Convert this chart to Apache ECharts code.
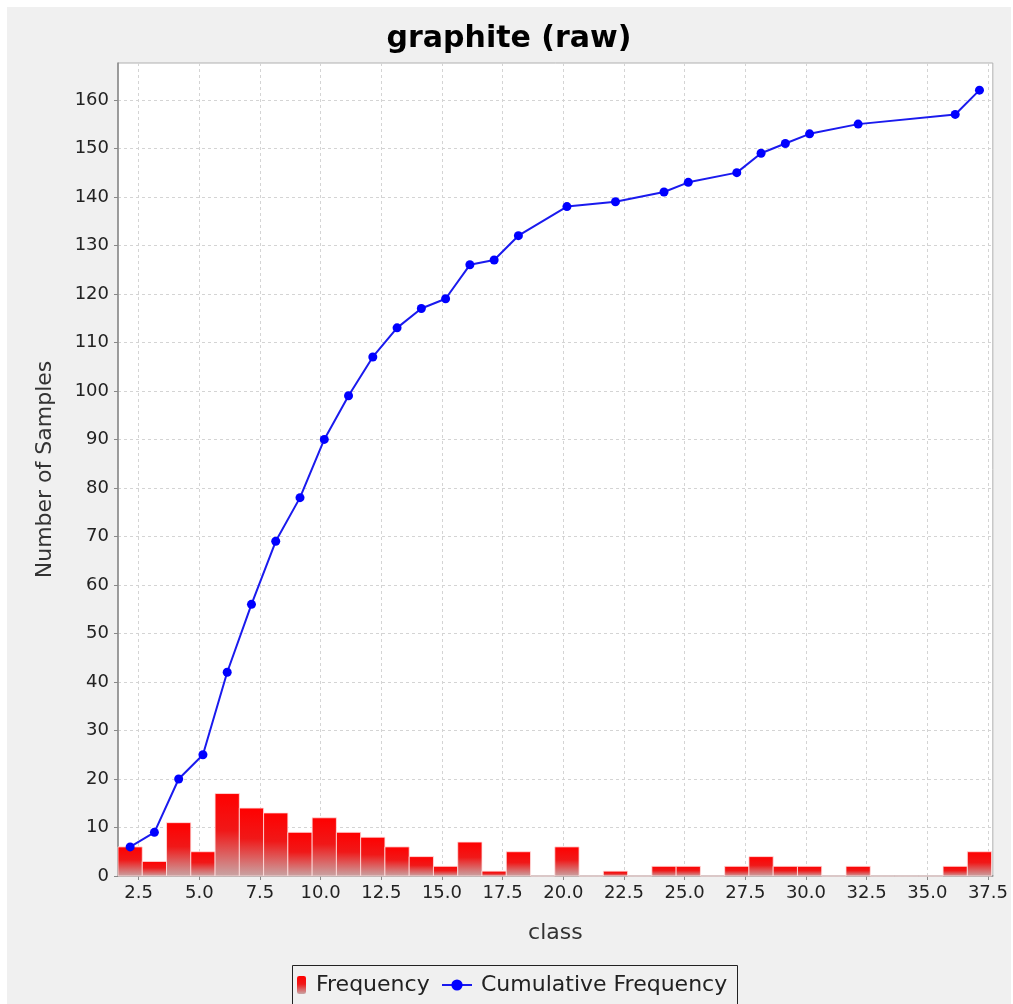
<!DOCTYPE html>
<html>
<head>
<meta charset="utf-8">
<script src="https://cdn.jsdelivr.net/npm/echarts@6/dist/echarts.min.js"></script>
<style>
  html, body { margin: 0; padding: 0; background: #fff; }
  #chart { position: absolute; left: 7px; top: 7px; width: 1004px; height: 997px; }
</style>
</head>
<body>
<div id="chart"></div>
<script>
// histogram bins (class axis)
const binStart = 1.65;
const binWidth = 1.0;
const frequency = [6, 3, 11, 5, 17, 14, 13, 9, 12, 9, 8, 6, 4, 2, 7, 1, 5, 0,
  6, 0, 1, 0, 2, 2, 0, 2, 4, 2, 2, 0, 2, 0, 0, 0, 2, 5];
// cumulative count, one value per non-empty bin
const cumulative = [6, 9, 20, 25, 42, 56, 69, 78, 90, 99, 107, 113, 117, 119,
  126, 127, 132, 138, 139, 141, 143, 145, 149, 151, 153, 155, 157, 162];
const xTicks = [2.5, 5.0, 7.5, 10.0, 12.5, 15.0, 17.5, 20.0, 22.5, 25.0, 27.5,
  30.0, 32.5, 35.0, 37.5];
const yTicks = [0, 10, 20, 30, 40, 50, 60, 70, 80, 90, 100, 110, 120, 130, 140,
  150, 160];

const FONT = 'DejaVu Sans';

// bar data: [low, high, count]
const barData = frequency.map((f, i) => [binStart + i * binWidth, binStart + (i + 1) * binWidth, f]);
const lineData = [];
let c = 0;
frequency.forEach((f, i) => {
  if (f > 0) {
    lineData.push([binStart + (i + 0.5) * binWidth, cumulative[c]]);
    c++;
  }
});

function redGradient() {
  return new echarts.graphic.LinearGradient(0, 0, 0, 1, [
    { offset: 0, color: '#ff0000' },
    { offset: 0.45, color: '#f01818' },
    { offset: 1, color: '#c8a6a6' }
  ]);
}

let myChart = echarts.init(document.getElementById('chart'));
myChart.setOption({
  backgroundColor: '#f0f0f0',
  animation: false,
  title: {
    text: 'graphite (raw)',
    left: 'center',
    top: 12,
    textStyle: { fontFamily: FONT, fontSize: 30, fontWeight: 'bold', color: '#000' }
  },
  grid: {
    left: 111, right: 15, top: 56, bottom: 128,
    show: true, backgroundColor: '#fff', borderColor: '#b0b0b0', borderWidth: 1
  },
  legend: [
    {
      data: ['Frequency'],
      left: 288, top: 964,
      itemWidth: 9, itemHeight: 18, itemGap: 0,
      padding: [3, 2, 3, 2],
      textStyle: { fontFamily: FONT, fontSize: 22, color: '#222', padding: [0, 0, 0, 5] }
    },
    {
      data: ['Cumulative Frequency'],
      left: 432, top: 964,
      itemWidth: 30, itemHeight: 14, itemGap: 0,
      padding: [3, 2, 3, 2],
      textStyle: { fontFamily: FONT, fontSize: 22, color: '#222', padding: [0, 0, 0, 4] }
    }
  ],
  graphic: [
    {
      type: 'rect', left: 283, top: 956, z: -1,
      shape: { width: 445, height: 60 },
      style: { fill: 'none', stroke: '#222', lineWidth: 1 }
    }
  ],
  xAxis: {
    type: 'value',
    min: binStart,
    max: 37.7,
    name: 'class',
    nameLocation: 'middle',
    nameGap: 46,
    nameTextStyle: { fontFamily: FONT, fontSize: 22, color: '#333' },
    axisLine: { show: true, onZero: false, lineStyle: { color: '#888', width: 1.5 } },
    axisTick: { show: true, length: 4, customValues: xTicks, lineStyle: { color: '#888' } },
    axisLabel: {
      customValues: xTicks, margin: 8, color: '#222', fontFamily: FONT, fontSize: 18,
      formatter: v => v.toFixed(1)
    },
    splitLine: { show: true, lineStyle: { color: '#d4d4d4', type: [3, 3] } }
  },
  yAxis: {
    type: 'value',
    min: 0,
    max: 167.6,
    name: 'Number of Samples',
    nameLocation: 'middle',
    nameGap: 62,
    nameTextStyle: { fontFamily: FONT, fontSize: 22, color: '#333' },
    axisLine: { show: true, lineStyle: { color: '#888', width: 1.5 } },
    axisTick: { show: true, length: 4, customValues: yTicks, lineStyle: { color: '#888' } },
    axisLabel: { customValues: yTicks, margin: 9, color: '#222', fontFamily: FONT, fontSize: 18 },
    splitLine: { show: true, lineStyle: { color: '#d4d4d4', type: [3, 3] } }
  },
  series: [
    {
      name: 'Frequency',
      type: 'custom',
      itemStyle: { color: redGradient() },
      encode: { x: [0, 1], y: 2 },
      data: barData,
      renderItem: function (params, api) {
        const p0 = api.coord([api.value(0), api.value(2)]);
        const p1 = api.coord([api.value(1), 0]);
        return {
          type: 'rect',
          shape: { x: p0[0], y: p0[1], width: p1[0] - p0[0], height: p1[1] - p0[1] },
          style: { fill: redGradient(), stroke: 'rgba(255,225,225,0.8)', lineWidth: 1 }
        };
      },
      z: 2
    },
    {
      name: 'Cumulative Frequency',
      type: 'line',
      data: lineData,
      symbol: 'circle',
      symbolSize: 9,
      itemStyle: { color: '#0000ff' },
      lineStyle: { color: '#1a1aee', width: 2 },
      z: 3
    }
  ]
});
</script>
</body>
</html>
